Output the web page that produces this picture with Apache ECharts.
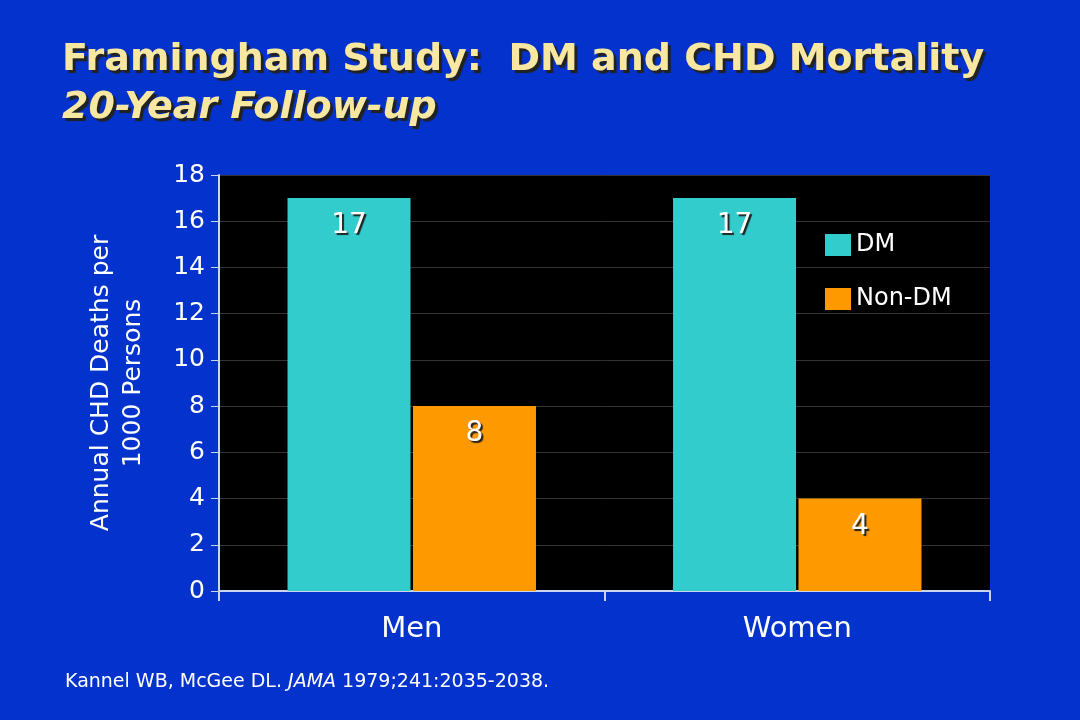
<!DOCTYPE html>
<html><head><meta charset="utf-8">
<script src="https://cdn.jsdelivr.net/npm/echarts@6/dist/echarts.min.js"></script>
<style>html,body{margin:0;padding:0;background:#0333cc}#c{width:1080px;height:720px}</style>
</head><body><div id="c"></div>
<script>
var categories = ['Men', 'Women'];
var dmValues = [17, 17];
var nonDmValues = [8, 4];
var seriesNames = ['DM', 'Non-DM'];

var chart = echarts.init(document.getElementById('c'));
var lbl = {
    show: true, position: 'insideTop', distance: 14,
    color: '#fff', fontSize: 28, fontFamily: 'DejaVu Sans',
    textBorderColor: '#333', textBorderWidth: 0,
    textShadowColor: '#222', textShadowBlur: 1, textShadowOffsetX: 2, textShadowOffsetY: 2
};
chart.setOption({
    backgroundColor: '#0333cc',
    title: [{
        text: 'Framingham Study:  DM and CHD Mortality',
        left: 57, top: 36,
        textStyle: { color: '#f7e7a1', fontSize: 38, fontWeight: 'bold', fontFamily: 'DejaVu Sans',
            textShadowColor: '#222', textShadowOffsetX: 3, textShadowOffsetY: 3, textShadowBlur: 1 }
    }, {
        text: '20-Year Follow-up',
        left: 57, top: 84,
        textStyle: { color: '#f7e7a1', fontSize: 38, fontWeight: 'bold', fontStyle: 'italic', fontFamily: 'DejaVu Sans',
            textShadowColor: '#222', textShadowOffsetX: 3, textShadowOffsetY: 3, textShadowBlur: 1 }
    }, {
        text: 'Kannel WB, McGee DL. {i|JAMA} 1979;241:2035-2038.',
        left: 60, top: 668,
        textStyle: { color: '#fff', fontSize: 19, fontWeight: 'normal', fontFamily: 'DejaVu Sans',
            rich: { i: { fontStyle: 'italic', fontSize: 19, color: '#fff', fontFamily: 'DejaVu Sans' } } }
    }],
    legend: {
        orient: 'vertical', left: 820, top: 228, itemGap: 30,
        itemWidth: 26, itemHeight: 22, icon: 'rect',
        textStyle: { color: '#fff', fontSize: 24, fontFamily: 'DejaVu Sans' },
        data: seriesNames
    },
    grid: { left: 219, right: 90, top: 175, bottom: 129, backgroundColor: '#000', show: true, borderWidth: 0 },
    xAxis: {
        type: 'category', data: categories,
        axisLine: { lineStyle: { color: '#c8d4f0', width: 2 } },
        axisTick: { show: true, length: 10, lineStyle: { color: '#c8d4f0', width: 2 } },
        axisLabel: { color: '#fff', fontSize: 29, margin: 24, fontFamily: 'DejaVu Sans' }
    },
    yAxis: {
        type: 'value', min: 0, max: 18, interval: 2,
        name: 'Annual CHD Deaths per\n1000 Persons', nameLocation: 'middle', nameGap: 70,
        nameTextStyle: { color: '#fff', fontSize: 25, fontFamily: 'DejaVu Sans', lineHeight: 32 },
        axisLine: { show: true, lineStyle: { color: '#c8d4f0', width: 2 } },
        axisTick: { show: true, length: 8, lineStyle: { color: '#c8d4f0' } },
        axisLabel: { color: '#fff', fontSize: 25, margin: 14, fontFamily: 'DejaVu Sans' },
        splitLine: { lineStyle: { color: '#333', width: 1 } }
    },
    series: [{
        name: seriesNames[0], type: 'bar', data: dmValues, barWidth: 123, barGap: '2%',
        itemStyle: { color: '#33cccc' }, label: lbl
    }, {
        name: seriesNames[1], type: 'bar', data: nonDmValues, barWidth: 123,
        itemStyle: { color: '#ff9900' }, label: lbl
    }]
});
</script></body></html>
